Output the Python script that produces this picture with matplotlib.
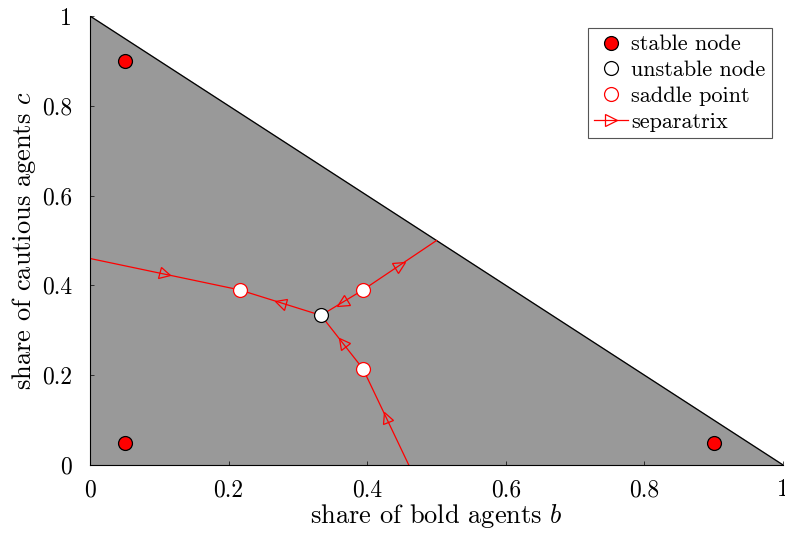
import numpy as np
import matplotlib
matplotlib.use("Agg")
import matplotlib.pyplot as plt
from matplotlib.lines import Line2D
from matplotlib.markers import MarkerStyle
from matplotlib.transforms import Affine2D

plt.rcParams['font.family'] = 'serif'
plt.rcParams['font.serif'] = ['cmr10', 'DejaVu Serif']
plt.rcParams['mathtext.fontset'] = 'cm'
plt.rcParams['axes.formatter.use_mathtext'] = True

# fixed points
stable_b = [0.05, 0.05, 0.9]
stable_c = [0.9, 0.05, 0.05]
unstable_b = [1/3]
unstable_c = [1/3]
saddle_b = [0.216, 0.394, 0.394]
saddle_c = [0.39, 0.39, 0.214]

# separatrix segments, listed in direction of the arrow: (b0, c0, b1, c1)
sep_b0 = [0.0, 1/3, 0.394, 0.394, 0.394, 0.46]
sep_c0 = [0.46, 1/3, 0.39, 0.39, 0.214, 0.0]
sep_b1 = [0.216, 0.216, 1/3, 0.5, 1/3, 0.394]
sep_c1 = [0.39, 0.39, 1/3, 0.5, 1/3, 0.214]

ticks = [0, 0.2, 0.4, 0.6, 0.8, 1]
tick_labels = ['0', '0.2', '0.4', '0.6', '0.8', '1']

fig = plt.figure(figsize=(7.85, 5.34), dpi=100)
ax = fig.add_axes([0.1146, 0.1292, 0.8829, 0.8408])
ax.set_xlim(0, 1)
ax.set_ylim(0, 1)

# simplex
ax.fill([0, 1, 0], [0, 0, 1], color='#999999', zorder=1)
ax.plot([0, 1], [1, 0], color='black', linewidth=0.9, zorder=2)

red = '#ff0000'
for b0, c0, b1, c1 in zip(sep_b0, sep_c0, sep_b1, sep_c1):
    ax.plot([b0, b1], [c0, c1], color=red, linewidth=0.9, zorder=3)
    p0 = ax.transData.transform((b0, c0))
    p1 = ax.transData.transform((b1, c1))
    ang = np.degrees(np.arctan2(p1[1] - p0[1], p1[0] - p0[0]))
    m = MarkerStyle('>', fillstyle='none', transform=Affine2D().rotate_deg(ang))
    ax.plot([(b0 + b1) / 2], [(c0 + c1) / 2], marker=m, markersize=8,
            color=red, markeredgewidth=0.9, linestyle='none', zorder=4)

ax.plot(stable_b, stable_c, 'o', markersize=10, markerfacecolor=red,
        markeredgecolor='black', markeredgewidth=0.9, zorder=5)
ax.plot(unstable_b, unstable_c, 'o', markersize=10, markerfacecolor='white',
        markeredgecolor='black', markeredgewidth=0.9, zorder=5)
ax.plot(saddle_b, saddle_c, 'o', markersize=10, markerfacecolor='white',
        markeredgecolor=red, markeredgewidth=0.9, zorder=5)

ax.spines['top'].set_visible(False)
ax.spines['right'].set_visible(False)
ax.spines['left'].set_zorder(6)
ax.spines['bottom'].set_zorder(6)
ax.set_xticks(ticks)
ax.set_xticklabels(tick_labels)
ax.set_yticks(ticks)
ax.set_yticklabels(tick_labels)
ax.tick_params(direction='in', length=3, width=0.5, labelsize=17)
ax.tick_params(axis='x', pad=10)
ax.tick_params(axis='y', pad=13)

ax.set_xlabel(r'share of bold agents $b$', fontsize=19, labelpad=1)
ax.set_ylabel(r'share of cautious agents $c$', fontsize=19, labelpad=3)

handles = [
    Line2D([], [], marker='o', linestyle='none', markersize=10,
           markerfacecolor=red, markeredgecolor='black', markeredgewidth=0.9),
    Line2D([], [], marker='o', linestyle='none', markersize=10,
           markerfacecolor='white', markeredgecolor='black', markeredgewidth=0.9),
    Line2D([], [], marker='o', linestyle='none', markersize=10,
           markerfacecolor='white', markeredgecolor=red, markeredgewidth=0.9),
    Line2D([], [], marker='>', color=red, linewidth=0.9, markersize=8,
           markerfacecolor='none', markeredgewidth=0.9),
]
labels = ['stable node', 'unstable node', 'saddle point', 'separatrix']
leg = ax.legend(handles, labels, loc='upper right', bbox_to_anchor=(0.984, 0.973),
                fontsize=16, frameon=True, fancybox=False, framealpha=1,
                edgecolor='#555555', borderpad=0.3, labelspacing=0.28,
                handlelength=1.5, handletextpad=0.15, borderaxespad=0)
leg.get_frame().set_linewidth(0.8)

plt.savefig('out.png', dpi=100)
